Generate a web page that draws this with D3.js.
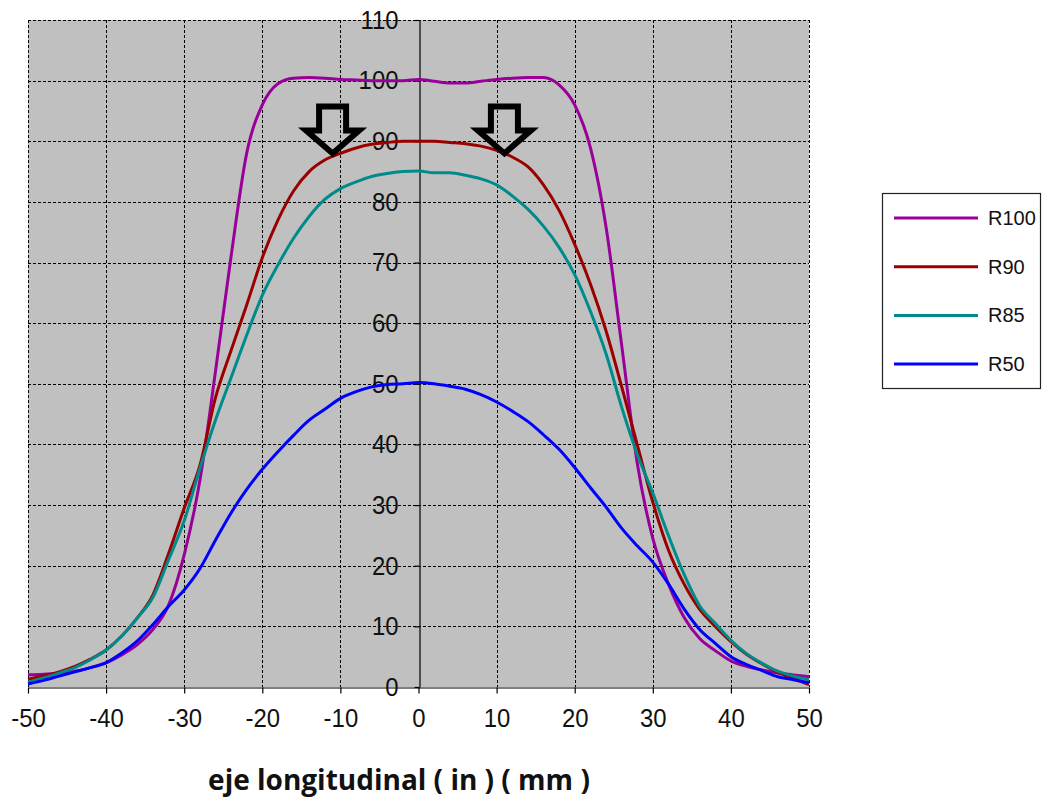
<!DOCTYPE html>
<html>
<head>
<meta charset="utf-8">
<script src="https://cdn.jsdelivr.net/npm/d3@7"></script>
<style>
  html, body { margin: 0; padding: 0; background: #fff; }
  svg { display: block; }
</style>
</head>
<body>
<svg id="chart" width="1045" height="798"></svg>
<script>
// posiciones (mm) y series
const positions = [-50,-48,-46,-44,-42,-40,-38,-36,-34,-32,-30,-28,-26,-24,-22,-20,-18,-16,-14,-12,-10,-8,-6,-4,-2,0,2,4,6,8,10,12,14,16,18,20,22,24,26,28,30,32,34,36,38,40,42,44,46,48,50];

const r100 = [2.0,2.1,2.3,2.6,3.2,4.0,5.3,7.0,9.5,13.5,21.8,34,52,71,88,96,99.5,100.4,100.5,100.4,100.2,100.1,100,100,100,100.2,99.9,99.6,99.6,99.9,100.2,100.4,100.5,100.5,99.3,96,89,76,56.5,37,24.5,17,11.5,8,6,4.3,3.4,2.8,2.3,2.0,1.7];
const r90 = [1.3,1.8,2.5,3.4,4.6,6.1,8.4,11.4,15.2,22,29.5,36.5,47.7,55.5,63,70.8,77,81.8,85,86.9,88,88.9,89.5,89.8,90,90,90,89.8,89.6,89.2,88.5,87.4,85.8,82.8,78.6,73,66.5,58.8,49.6,40,30.5,22.6,17,12.8,10,7.5,5.4,3.8,2.4,1.4,0.4];
const r85 = [0.8,1.5,2.3,3.2,4.5,6.1,8.4,11.4,14.8,21,27.4,36,44,51,58,64.6,69.6,74,77.6,80.4,82.2,83.3,84.2,84.7,85,85.1,84.8,84.8,84.4,83.8,82.8,81,78.8,76,72.5,68,62,55,46.2,38.4,32,25,18.6,13.4,10.5,7.7,5.5,3.9,2.6,1.8,1.2];
const r50 = [0.5,1.1,1.8,2.5,3.2,4.0,5.6,7.6,10.3,13.3,16,19.5,24.2,28.7,32.6,35.9,38.8,41.5,44,45.8,47.6,48.7,49.5,49.9,50,50.2,50,49.6,49.1,48.2,47,45.5,43.8,41.6,39.2,36.2,32.9,29.7,26.2,23.3,20.6,17,12.9,9.5,7.2,5,3.7,2.7,1.7,1.2,0.7];

const seriesNames = ["R100", "R90", "R85", "R50"];
const seriesColors = ["#990099", "#990000", "#008b8b", "#0000ff"];
const seriesValues = [r100, r90, r85, r50];

const xTicks = [-50,-40,-30,-20,-10,0,10,20,30,40,50];
const yTicks = [0,10,20,30,40,50,60,70,80,90,100,110];

// flechas de anotacion (punta en coordenadas de datos)
const arrowTips = [{ x: -11, y: 88 }, { x: 11, y: 88 }];

const xLabel = "eje longitudinal ( in ) ( mm )";

const svg = d3.select("#chart");
const plot = { left: 28, right: 809, top: 20, bottom: 687 };

const x = d3.scaleLinear().domain([-50, 50]).range([plot.left, plot.right]);
const y = d3.scaleLinear().domain([0, 110]).range([plot.bottom, plot.top]);

// fondo gris
svg.append("rect")
    .attr("x", plot.left).attr("y", plot.top)
    .attr("width", plot.right - plot.left).attr("height", plot.bottom - plot.top)
    .attr("fill", "#c0c0c0");

// rejilla punteada
const grid = svg.append("g").attr("stroke", "#000").attr("stroke-width", 1)
    .attr("stroke-dasharray", "3,2").attr("shape-rendering", "crispEdges");
grid.selectAll("line.v").data(xTicks).enter().append("line")
    .attr("x1", d => Math.round(x(d)) + 0.5).attr("x2", d => Math.round(x(d)) + 0.5)
    .attr("y1", plot.top).attr("y2", plot.bottom)
    .attr("opacity", d => d === 0 ? 0 : 1);
grid.selectAll("line.h").data(yTicks).enter().append("line")
    .attr("y1", d => Math.round(y(d)) + 0.5).attr("y2", d => Math.round(y(d)) + 0.5)
    .attr("x1", plot.left).attr("x2", plot.right)
    .attr("opacity", d => d === 0 ? 0 : 1);

// ejes (guion normal para los negativos, como en Excel)
const tickScale = 0.92;
const fmt = d => String(d);
const xAxis = svg.append("g")
    .attr("transform", `translate(0,${Math.round(y(0)) + 0.5})`)
    .call(d3.axisBottom(x).tickValues(xTicks).tickFormat(fmt).tickSize(6).tickSizeOuter(0).tickPadding(15));
const yAxis = svg.append("g")
    .attr("transform", `translate(${Math.round(x(0)) + 0.5},0)`)
    .call(d3.axisLeft(y).tickValues(yTicks).tickFormat(fmt).tickSize(5).tickSizeOuter(0).tickPadding(16));

[xAxis, yAxis].forEach(g => {
    g.select(".domain").attr("stroke", "#000").attr("stroke-width", 1.2);
    g.selectAll(".tick line").attr("stroke", "#000").attr("stroke-width", 1.2);
    g.selectAll(".tick text")
        .attr("fill", "#111")
        .style("font-family", "'Liberation Sans', Arial, sans-serif")
        .style("font-size", "26px");
});
xAxis.selectAll(".tick text").attr("transform", `scale(${tickScale},1)`);
yAxis.selectAll(".tick text")
    .attr("x", -21 / tickScale)
    .attr("transform", `scale(${tickScale},1)`);

// curvas
const line = d3.line()
    .x((d, i) => x(positions[i]))
    .y(d => y(d))
    .curve(d3.curveMonotoneX);
svg.append("g").selectAll("path").data(seriesValues).enter().append("path")
    .attr("d", d => line(d))
    .attr("fill", "none")
    .attr("stroke", (d, i) => seriesColors[i])
    .attr("stroke-width", 3)
    .attr("stroke-linejoin", "round");

// flechas
const arrowShape = "M0,0 L26.5,-23 L13.5,-23 L13.5,-47 L-13.5,-47 L-13.5,-23 L-26.5,-23 Z";
svg.append("g").selectAll("path").data(arrowTips).enter().append("path")
    .attr("transform", d => `translate(${x(d.x)},${y(d.y)})`)
    .attr("d", arrowShape)
    .attr("fill", "none")
    .attr("stroke", "#000")
    .attr("stroke-width", 6)
    .attr("stroke-linejoin", "miter");

// titulo del eje x
svg.append("text")
    .attr("x", 399).attr("y", 790)
    .attr("text-anchor", "middle")
    .style("font-family", "'Open Sans', sans-serif")
    .style("font-weight", "bold")
    .style("font-size", "28px")
    .attr("fill", "#111")
    .text(xLabel);

// leyenda
const legend = svg.append("g");
legend.append("rect")
    .attr("x", 882.5).attr("y", 193.5).attr("width", 158).attr("height", 195)
    .attr("fill", "#fff").attr("stroke", "#222").attr("stroke-width", 1.2);
const items = legend.selectAll("g.item").data(seriesNames).enter().append("g")
    .attr("transform", (d, i) => `translate(0,${218 + i * 48.7})`);
items.append("line")
    .attr("x1", 894).attr("x2", 978)
    .attr("stroke", (d, i) => seriesColors[i]).attr("stroke-width", 3);
items.append("text")
    .attr("x", 988).attr("y", 7)
    .style("font-family", "'Liberation Sans', Arial, sans-serif")
    .style("font-size", "20px")
    .attr("fill", "#111")
    .text(d => d);
</script>
</body>
</html>
